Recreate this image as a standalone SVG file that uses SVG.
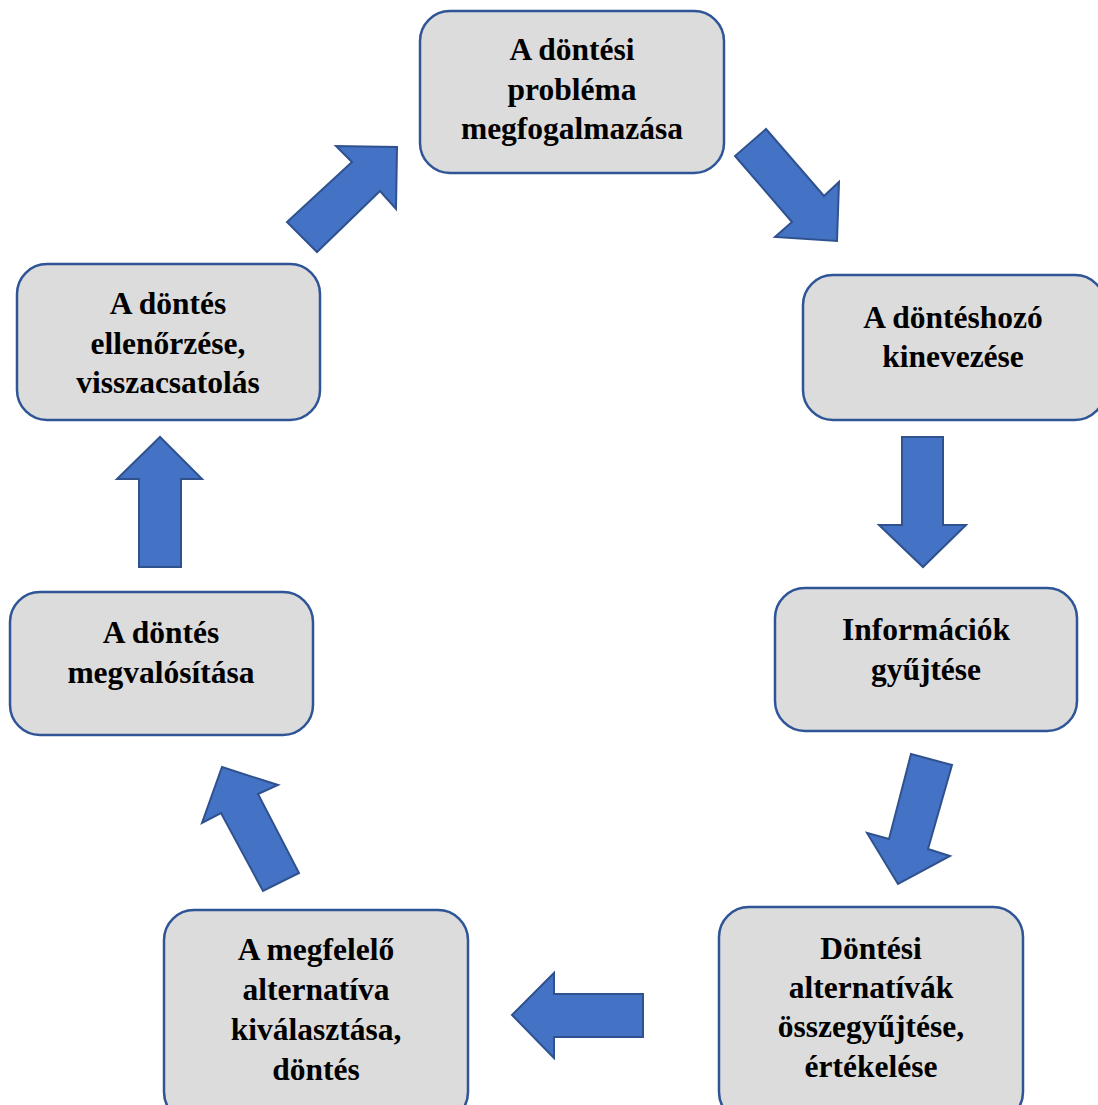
<svg xmlns="http://www.w3.org/2000/svg" width="1098" height="1105" viewBox="0 0 1098 1105">
<style>
.box{fill:#DCDCDC;stroke:#2F5597;stroke-width:2.5}
.arr{fill:#4472C4;stroke:#2F528F;stroke-width:2;stroke-linejoin:miter}
.t{font-weight:700;font-size:31.5px;fill:#000;text-anchor:middle}
</style>
<rect width="1098" height="1105" fill="#fff"/>
<g id="connectors">
<polygon class="arr" points="397,147 396,209 380,191 317,252 287,222 352,162 336,146"/>
<polygon class="arr" points="766,129 824,196 839,182 837,241 775,237 792,222 735,156"/>
<polygon class="arr" points="902,437 943,437 943,525 966,525 923,567 879,525 902,525"/>
<polygon class="arr" points="911,754 952,765 928,849 950,856 898,884 867,833 889,839"/>
<polygon class="arr" points="643,994 643,1037 554,1037 554,1058 512,1015 554,973 554,994"/>
<polygon class="arr" points="222,767 278,785 258,794 299,873 263,891 221,813 202,823"/>
<polygon class="arr" points="139,567 181,567 181,479 202,479 160,437 117,479 139,479"/>
</g>
<g font-family="Liberation Serif, DejaVu Serif, serif">
<g id="n1">
<rect class="box" x="420" y="11" width="304" height="162" rx="30"/>
<text class="t" x="572" y="60">A döntési</text>
<text class="t" x="572" y="100">probléma</text>
<text class="t" x="572" y="139">megfogalmazása</text>
</g>
<g id="n2">
<rect class="box" x="803" y="275" width="302" height="145" rx="30"/>
<text class="t" x="953" y="328">A döntéshozó</text>
<text class="t" x="953" y="367">kinevezése</text>
</g>
<g id="n3">
<rect class="box" x="775" y="588" width="302" height="143" rx="30"/>
<text class="t" x="926" y="640">Információk</text>
<text class="t" x="926" y="680">gyűjtése</text>
</g>
<g id="n4">
<rect class="box" x="719" y="907" width="304" height="215" rx="30"/>
<text class="t" x="871" y="959">Döntési</text>
<text class="t" x="871" y="998">alternatívák</text>
<text class="t" x="871" y="1037">összegyűjtése,</text>
<text class="t" x="871" y="1077">értékelése</text>
</g>
<g id="n5">
<rect class="box" x="164" y="910" width="304" height="212" rx="30"/>
<text class="t" x="316" y="960">A megfelelő</text>
<text class="t" x="316" y="1000">alternatíva</text>
<text class="t" x="316" y="1040">kiválasztása,</text>
<text class="t" x="316" y="1080">döntés</text>
</g>
<g id="n6">
<rect class="box" x="10" y="592" width="303" height="143" rx="30"/>
<text class="t" x="161" y="643">A döntés</text>
<text class="t" x="161" y="683">megvalósítása</text>
</g>
<g id="n7">
<rect class="box" x="17" y="264" width="303" height="156" rx="30"/>
<text class="t" x="168" y="314">A döntés</text>
<text class="t" x="168" y="354">ellenőrzése,</text>
<text class="t" x="168" y="393">visszacsatolás</text>
</g>
</g>
</svg>
